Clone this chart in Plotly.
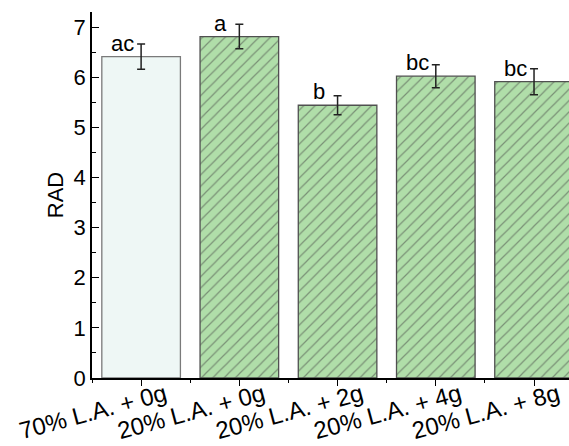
import plotly.graph_objects as go

groups = ["70% L.A. + 0g", "20% L.A. + 0g", "20% L.A. + 2g", "20% L.A. + 4g", "20% L.A. + 8g"]
rad = [6.41, 6.81, 5.44, 6.02, 5.91]
rad_err = [0.25, 0.245, 0.19, 0.23, 0.26]
letters = ["ac", "a", "b", "bc", "bc"]

fills = ["#eef7f5", "#b0dea9", "#b0dea9", "#b0dea9", "#b0dea9"]
edges = ["#7a7a7a", "#505050", "#505050", "#505050", "#505050"]
hatch = ["", "/", "/", "/", "/"]

FONT = "Arial, Liberation Sans, sans-serif"
xpos = list(range(len(groups)))

fig = go.Figure()
fig.add_trace(go.Bar(
    x=xpos, y=rad, width=0.8,
    marker=dict(
        color=fills,
        line=dict(color=edges, width=1.3),
        pattern=dict(shape=hatch, fgcolor="#334a31", size=8, solidity=0.15, fillmode="overlay"),
    ),
    error_y=dict(type="data", array=rad_err, visible=True, color="#222222", thickness=1.5, width=4),
    showlegend=False,
))

for xi, yi, lab in zip(xpos, rad, letters):
    fig.add_annotation(x=xi, y=yi, text=lab, showarrow=False, xanchor="center", yanchor="bottom",
                       xshift=-18.5, yshift=-1, font=dict(family=FONT, size=22, color="black"))

fig.update_layout(
    width=569, height=446,
    margin=dict(l=92, r=0, t=12, b=68),
    paper_bgcolor="white", plot_bgcolor="white",
    font=dict(family=FONT, size=22, color="black"),
)
fig.update_xaxes(
    range=[-0.5, 4.356], tickmode="array", tickvals=xpos, ticktext=groups,
    tickangle=-15, ticks="outside", ticklen=6, tickwidth=1.3, tickcolor="black",
    ticklabelshift=24, ticklabelstandoff=-14, automargin=False,
    minor=dict(tickmode="array", tickvals=[-0.5, 0.5, 1.5, 2.5, 3.5], ticks="outside", ticklen=3, tickcolor="black"),
    showline=True, linecolor="black", linewidth=1.5, showgrid=False, zeroline=False,
    tickfont=dict(size=24),
)
fig.update_yaxes(
    range=[0, 7.3], dtick=1, tick0=0, ticks="inside", ticklen=7, tickwidth=1.3, tickcolor="black",
    minor=dict(dtick=0.5, ticks="inside", ticklen=4, tickcolor="black"),
    showline=True, linecolor="black", linewidth=1.5, showgrid=False, zeroline=False,
    title=dict(text="RAD", font=dict(size=22), standoff=4), automargin=False,
    tickfont=dict(size=22),
)

fig.write_html("out.html")
